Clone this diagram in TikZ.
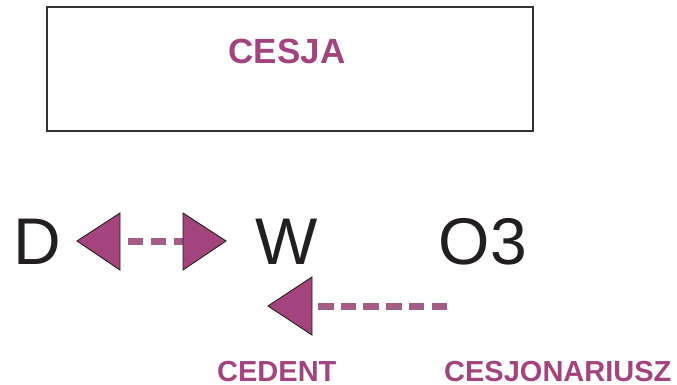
\documentclass[tikz,border=0pt]{standalone}
\usepackage{fontspec}
\setmainfont{Liberation Sans}
\definecolor{mag}{HTML}{A4447F}
\definecolor{dashc}{HTML}{A35C85}
\definecolor{ink}{HTML}{231F20}
\tikzset{
  letter/.style={font=\fontsize{66}{66}\selectfont, text=ink, inner sep=0pt, anchor=base},
  label/.style={font=\bfseries\fontsize{29}{29}\selectfont, text=mag, inner sep=0pt, anchor=base west},
  tri/.style={fill=mag, draw=ink, line width=0.9pt, line join=miter},
  dashline/.style={draw=dashc, line width=7pt, dash pattern=on 15pt off 8pt},
}
\begin{document}
\begin{tikzpicture}[x=1pt,y=-1pt]
\useasboundingbox (0,0) rectangle (677,385);
\node[draw=black!80, line width=1.6pt, minimum width=486pt, minimum height=124pt, inner sep=0pt, anchor=north west] (cesja) at (46,6.5) {};
\node[font=\bfseries\fontsize{35}{35}\selectfont, text=mag, inner sep=0pt, anchor=base] (title) at (287,63.5) {CESJA};
\node[letter] (D) at (37.5,264.5) {D};
\node[letter] (W) at (286.5,264.5) {W};
\node[letter] (O3) at (483,264.5) {O3};
% left double arrow
\coordinate (a1) at (128,241);
\coordinate (a2) at (183,241);
\draw[dashline] (a1) -- (a2);
\draw[tri] (77,241) -- (120,213) -- (120,270) -- cycle;
\draw[tri] (226,241) -- (183,213) -- (183,270) -- cycle;
% bottom arrow
\coordinate (b1) at (448,306);
\coordinate (b2) at (318,306);
\draw[dashline, dash pattern=on 15.5pt off 7.2pt] (b2) -- (b1);
\draw[tri] (268,306) -- (312,277) -- (312,335) -- cycle;
\node[label] (ced) at (217,381.5) {CEDENT};
\node[label] (ces) at (444,381.5) {CESJONARIUSZ};
\end{tikzpicture}
\end{document}
